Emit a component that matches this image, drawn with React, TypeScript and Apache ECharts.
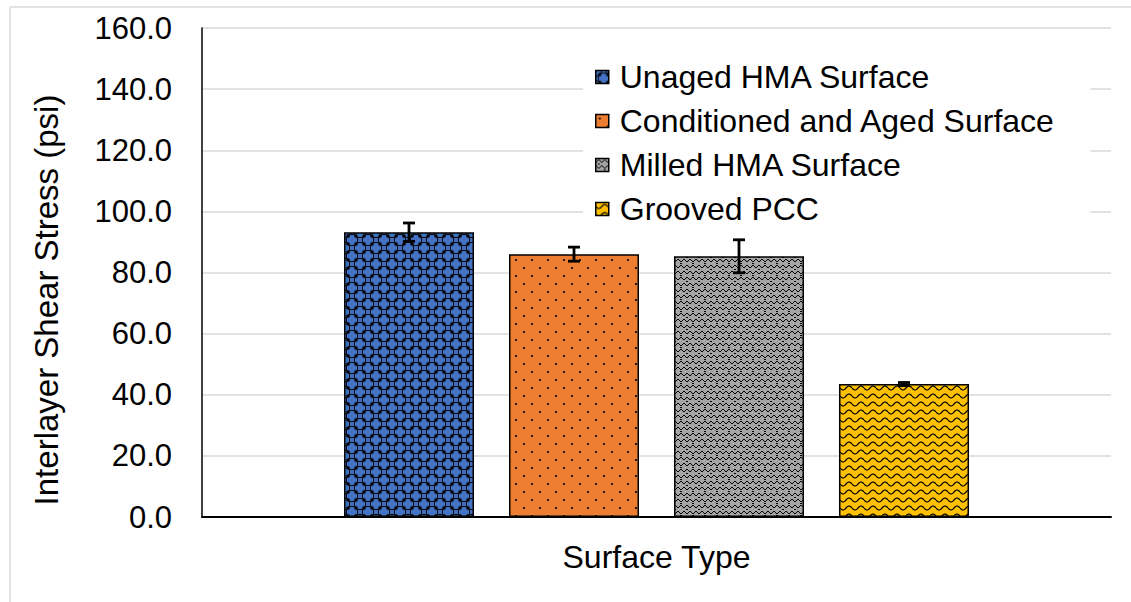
import React, { useEffect, useRef } from 'react';
import * as echarts from 'echarts';

const categories = ['Surface Type'];
const seriesNames = [
  'Unaged HMA Surface',
  'Conditioned and Aged Surface',
  'Milled HMA Surface',
  'Grooved PCC',
];
const meanValues = [93.2, 86.0, 85.3, 43.5];
const errorValues = [3.0, 2.3, 5.4, 0.5];
const yMin = 0;
const yMax = 160;
const yInterval = 20;
const yTitle = 'Interlayer Shear Stress (psi)';
const xTitle = 'Surface Type';
const baseColors = ['#4472C4', '#ED7D31', '#A5A5A5', '#FFC000'];

const BAR_W = 130;
const BAR_GAP = 35;
const FONT = '"Liberation Sans", Arial, sans-serif';

function makeTile(w: number, h: number, bg: string, draw: (c: CanvasRenderingContext2D) => void) {
  const cv = document.createElement('canvas');
  cv.width = w;
  cv.height = h;
  const c = cv.getContext('2d') as CanvasRenderingContext2D;
  c.fillStyle = bg;
  c.fillRect(0, 0, w, h);
  c.strokeStyle = '#000';
  c.fillStyle = '#000';
  draw(c);
  return { image: cv.toDataURL(), repeat: 'repeat', imageWidth: w, imageHeight: h };
}

function patterns() {
  const blue = makeTile(16, 16, baseColors[0], (c) => {
    c.lineWidth = 1;
    const r = Math.SQRT2 * 4;
    [[0, 0], [16, 0], [0, 16], [16, 16], [8, 8]].forEach(([x, y]) => {
      c.beginPath();
      c.arc(x, y, r, 0, Math.PI * 2);
      c.stroke();
    });
    [[4, 4], [12, 4], [4, 12], [12, 12]].forEach(([x, y]) => {
      c.fillRect(x - 1.5, y - 1.5, 3, 3);
    });
  });
  const orange = makeTile(16, 16, baseColors[1], (c) => {
    [[4, 4], [12, 12]].forEach(([x, y]) => {
      c.beginPath();
      c.arc(x, y, 1.1, 0, Math.PI * 2);
      c.fill();
    });
  });
  const gray = makeTile(12, 12, baseColors[2], (c) => {
    c.lineWidth = 1;
    c.beginPath();
    c.moveTo(0, 4);
    c.lineTo(3, 1);
    c.lineTo(6, 4);
    c.lineTo(9, 1);
    c.lineTo(12, 4);
    c.stroke();
    c.beginPath();
    c.moveTo(0, 7);
    c.lineTo(3, 10);
    c.lineTo(6, 7);
    c.lineTo(9, 10);
    c.lineTo(12, 7);
    c.stroke();
    c.fillRect(2, 5, 2, 1);
    c.fillRect(8, 11, 2, 1);
  });
  const gold = makeTile(12, 8, baseColors[3], (c) => {
    c.lineWidth = 1.2;
    c.beginPath();
    for (let x = 0; x <= 12; x += 0.5) {
      const y = 4 + 2 * Math.sin((2 * Math.PI * x) / 12);
      if (x === 0) c.moveTo(x, y);
      else c.lineTo(x, y);
    }
    c.stroke();
  });
  return [blue, orange, gray, gold];
}

export default function App() {
  const ref = useRef<HTMLDivElement>(null);
  useEffect(() => {
    document.body.style.margin = '0';
    const chart = echarts.init(ref.current as HTMLDivElement, undefined, { renderer: 'svg' });
    const pats = patterns();
    const barSeries = seriesNames.map((name, i) => ({
      name,
      type: 'bar',
      data: [meanValues[i]],
      barWidth: BAR_W,
      barGap: `${(BAR_GAP / BAR_W) * 100}%`,
      itemStyle: { color: pats[i], borderColor: '#000', borderWidth: 1.5 },
      z: 2,
    }));
    const errData = seriesNames.map((_, i) => [0, meanValues[i] - errorValues[i], meanValues[i] + errorValues[i], i]);
    const option = {
      animation: false,
      backgroundColor: '#fff',
      textStyle: { fontFamily: FONT },
      grid: { left: 202, right: 20, top: 28, bottom: 85, containLabel: false },
      legend: {
        orient: 'vertical',
        left: 583,
        top: 54,
        padding: [7, 35, 12, 12],
        backgroundColor: '#fff',
        itemWidth: 13,
        itemHeight: 13,
        itemGap: 12,
        icon: 'rect',
        data: seriesNames,
        textStyle: { fontSize: 32, color: '#000', fontFamily: FONT, lineHeight: 32, padding: [0, 0, 0, 6] },
        itemStyle: { borderColor: '#000', borderWidth: 1.5 },
      },
      xAxis: {
        type: 'category',
        data: categories,
        name: xTitle,
        nameLocation: 'middle',
        nameGap: 24,
        nameTextStyle: { fontSize: 32, color: '#000', fontFamily: FONT },
        axisLine: { lineStyle: { color: '#000', width: 2 } },
        axisTick: { show: false },
        axisLabel: { show: false },
      },
      yAxis: {
        type: 'value',
        min: yMin,
        max: yMax,
        interval: yInterval,
        axisLine: { show: true, lineStyle: { color: '#000', width: 1.5 } },
        axisTick: { show: false },
        axisLabel: { fontSize: 31, color: '#000', fontFamily: FONT, margin: 30, formatter: (v: number) => v.toFixed(1) },
        splitLine: { lineStyle: { color: '#D9D9D9', width: 1.5 } },
      },
      series: [
        ...barSeries,
        {
          type: 'custom',
          name: 'errors',
          data: errData,
          encode: { x: 0, y: [1, 2] },
          z: 5,
          silent: true,
          renderItem: (params: any, api: any) => {
            const idx = api.value(3);
            const cx = api.coord([api.value(0), 0])[0] + (idx - 1.5) * (BAR_W + BAR_GAP);
            const yLow = api.coord([0, api.value(1)])[1];
            const yHigh = api.coord([0, api.value(2)])[1];
            const st = { stroke: '#000', lineWidth: 2.8 };
            const cap = 6;
            return {
              type: 'group',
              children: [
                { type: 'line', shape: { x1: cx, y1: yLow, x2: cx, y2: yHigh }, style: st },
                { type: 'line', shape: { x1: cx - cap, y1: yLow, x2: cx + cap, y2: yLow }, style: st },
                { type: 'line', shape: { x1: cx - cap, y1: yHigh, x2: cx + cap, y2: yHigh }, style: st },
              ],
            };
          },
        },
      ],
      graphic: [
        { type: 'line', shape: { x1: 10, y1: 7, x2: 1131, y2: 7 }, style: { stroke: '#D9D9D9', lineWidth: 1.5 } },
        { type: 'line', shape: { x1: 10, y1: 7, x2: 10, y2: 602 }, style: { stroke: '#D9D9D9', lineWidth: 1.5 } },
        {
          type: 'text',
          x: 46,
          y: 300,
          rotation: Math.PI / 2,
          style: { text: yTitle, fontSize: 33, fontFamily: FONT, fill: '#000', align: 'center', verticalAlign: 'middle' },
        },
      ],
    };
    chart.setOption(option as any);
    return () => chart.dispose();
  }, []);
  return <div ref={ref} style={{ width: 1131, height: 602 }} />;
}
